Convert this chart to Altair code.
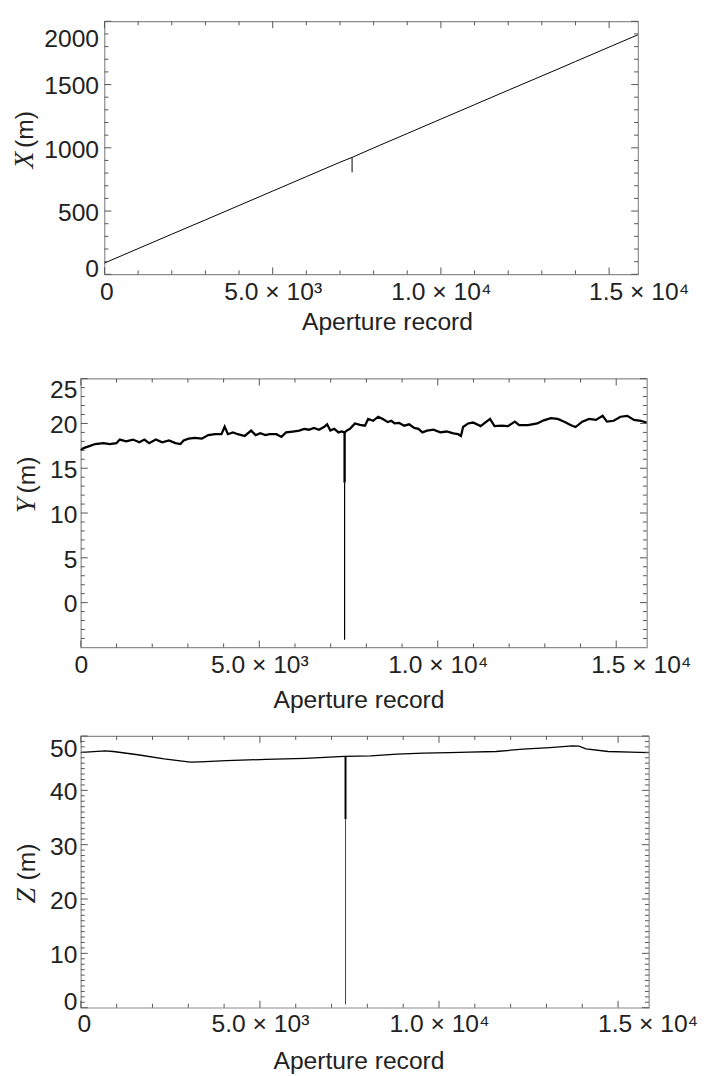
import altair as alt
import pandas as pd

# ---------------- data ----------------
# top panel: X (m) vs aperture record
x_rec = [0, 1000, 2000, 3000, 4000, 5000, 6000, 7000, 7360, 8000, 9000, 10000,
         11000, 12000, 13000, 13600, 14000, 15000, 15853]
x_val = [89, 203, 317, 430, 544, 658, 772, 886, 924, 999, 1113, 1227,
         1341, 1455, 1568, 1636, 1682, 1796, 1893]
x_spike = [7360, 806, 924]          # record, low, high

# middle panel: Y (m)
y_rec = [0, 77, 260, 400, 630, 810, 996, 1090, 1270, 1460, 1640, 1780, 1915, 2100,
         2280, 2470, 2650, 2790, 2880, 3020, 3200, 3390, 3570, 3760, 3940, 4030,
         4120, 4260, 4400, 4590, 4770, 4900, 5030, 5170, 5290, 5480, 5620, 5750,
         5940, 6120, 6260, 6390, 6530, 6670, 6810, 6900, 6990, 7100, 7220, 7310,
         7390, 7450, 7540, 7680, 7820, 7960, 8050, 8190, 8330, 8460, 8600, 8700,
         8790, 8920, 9060, 9200, 9340, 9460, 9570, 9700, 9880, 10070, 10250, 10440,
         10570, 10650, 10710, 10850, 10990, 11200, 11465, 11590, 11780, 11970, 12160,
         12280, 12530, 12790, 12970, 13170, 13360, 13545, 13735, 13860, 14050, 14240,
         14430, 14620, 14740, 14930, 15120, 15310, 15500, 15690, 15850]
y_val = [17.0, 17.25, 17.5, 17.7, 17.8, 17.7, 17.8, 18.2, 18.0, 18.2, 17.9, 18.2, 17.8, 18.2,
         17.9, 18.1, 17.8, 17.7, 18.1, 18.3, 18.4, 18.3, 18.7, 18.8, 18.8, 19.65,
         18.8, 19.0, 18.8, 18.6, 19.2, 18.7, 18.9, 18.7, 18.8, 18.8, 18.5, 19.0,
         19.1, 19.2, 19.4, 19.3, 19.5, 19.3, 19.6, 19.9, 19.2, 19.4, 19.0, 19.1,
         19.0, 19.2, 19.4, 20.0, 19.85, 19.75, 20.5, 20.3, 20.75, 20.5, 20.15, 20.3,
         20.0, 20.05, 19.75, 19.9, 19.5, 19.4, 19.0, 19.2, 19.3, 19.0, 19.1, 18.9,
         18.8, 18.6, 19.6, 20.0, 20.1, 19.7, 20.5, 19.7, 19.75, 19.7, 20.2,
         19.8, 19.8, 20.0, 20.35, 20.6, 20.5, 20.2, 19.8, 19.6, 20.2, 20.5,
         20.4, 20.85, 20.2, 20.3, 20.75, 20.85, 20.4, 20.3, 20.1]
y_spike_thick = [7390, 13.4, 19.0]
y_spike_thin = [7390, -4.15, 13.4]

# bottom panel: Z (m)
z_rec = [0, 36, 676, 905, 1590, 2324, 3057, 3330, 4063, 5162, 6260, 7360, 8093, 8826,
         9560, 10290, 10840, 11590, 12343, 13094, 13722, 13911, 14100, 14726, 15354, 15854]
z_val = [46.96, 47.0, 47.27, 47.15, 46.55, 45.8, 45.2, 45.25, 45.45, 45.7, 45.9, 46.24, 46.35,
         46.66, 46.85, 46.96, 47.05, 47.15, 47.57, 47.87, 48.18, 48.12, 47.63, 47.15, 47.02, 46.96]
z_spike_thick = [7390, 34.7, 46.3]
z_spike_thin = [7390, 0.6, 34.7]

# axis ticks / labels
x_major = [0, 5000, 10000, 15000]
x_major_labels = ["0", "5.0 × 10³", "1.0 × 10⁴", "1.5 × 10⁴"]
x_minor = [v for v in range(1000, 15000, 1000) if v % 5000]
top_y_major = [0, 500, 1000, 1500, 2000]
mid_y_major = [0, 5, 10, 15, 20, 25]
bot_y_major = [0, 10, 20, 30, 40, 50]

# ---------------- style ----------------
FONT = "Liberation Sans"
SERIF = "Liberation Serif"
INK = "#222222"
FRAME = "#8c8c8c"
TICK = "#555555"
XDOM = [0, 15860]

x_label_expr = " : ".join(
    f"datum.value == {v} ? '{lab}'" for v, lab in zip(x_major, x_major_labels)) + " : ''"


def tick_layers(W, H, xscale, yscale, ymaj, ymin):
    layers = []
    for vals, L in ((x_major, 7), (x_minor, 4)):
        base = alt.Chart(pd.DataFrame({"rec": vals})).mark_rule(color=TICK, strokeWidth=1)
        xe = alt.X("rec:Q", scale=xscale)
        layers.append(base.encode(x=xe, y=alt.value(H), y2=alt.value(H - L)))
        layers.append(base.encode(x=xe, y=alt.value(0), y2=alt.value(L)))
    for vals, L in ((ymaj, 7), (ymin, 4)):
        base = alt.Chart(pd.DataFrame({"val": vals})).mark_rule(color=TICK, strokeWidth=1)
        ye = alt.Y("val:Q", scale=yscale)
        layers.append(base.encode(y=ye, x=alt.value(0), x2=alt.value(L)))
        layers.append(base.encode(y=ye, x=alt.value(W), x2=alt.value(W - L)))
    return layers


def ytitle_layers(letter, tx, ty_letter, ty_unit):
    t1 = alt.Chart(pd.DataFrame({"t": [letter]})).mark_text(
        font=SERIF, fontStyle="italic", fontSize=28, angle=270, align="center",
        baseline="middle", color=INK).encode(text="t:N", x=alt.value(tx), y=alt.value(ty_letter))
    t2 = alt.Chart(pd.DataFrame({"t": ["(m)"]})).mark_text(
        font=FONT, fontSize=25, angle=270, align="center",
        baseline="middle", color=INK).encode(text="t:N", x=alt.value(tx), y=alt.value(ty_unit))
    return [t1, t2]


def spike_layer(spk, xscale, yscale, width, color="black"):
    df = pd.DataFrame({"rec": [spk[0]], "val": [spk[1]], "hi": [spk[2]]})
    return alt.Chart(df).mark_rule(color=color, strokeWidth=width).encode(
        x=alt.X("rec:Q", scale=xscale),
        y=alt.Y("val:Q", scale=yscale), y2="hi:Q")


def panel(rec, val, ydom, ymaj, ymin, W, H, line_w, lab_off, off15, lp_x, tp_x, title_x,
          lp_y, spikes, letter, tx, ty_letter, ty_unit, extra_top=0, off0=0):
    xscale = alt.Scale(domain=XDOM, nice=False, zero=False)
    yscale = alt.Scale(domain=ydom, nice=False, zero=False)
    conds = [{"test": f"datum.value == {k}", "value": v} for k, v in lab_off.items()]
    xconds = [{"test": "datum.value == 15000", "value": off15},
              {"test": "datum.value == 0", "value": off0}]
    main = alt.Chart(pd.DataFrame({"rec": rec, "val": val})).mark_line(
        color="black", strokeWidth=line_w).encode(
        x=alt.X("rec:Q", scale=xscale, title="Aperture record",
                axis=alt.Axis(values=x_major, labelExpr=x_label_expr, labelPadding=lp_x,
                              titlePadding=tp_x, titleX=title_x,
                              labelOffset={"condition": xconds, "value": 0})),
        y=alt.Y("val:Q", scale=yscale, title=" ",
                axis=alt.Axis(values=ymaj, format="d", labelPadding=lp_y, titleOpacity=0,
                              labelOffset={"condition": conds, "value": 1.5})))
    layers = [main]
    for spk, w, c in spikes:
        layers.append(spike_layer(spk, xscale, yscale, w, c))
    layers += tick_layers(W, H, xscale, yscale, ymaj, ymin)
    layers += ytitle_layers(letter, tx, ty_letter, ty_unit)
    if extra_top:
        layers.append(alt.Chart(pd.DataFrame({"a": [0]})).mark_rule(opacity=0).encode(
            x=alt.value(5), y=alt.value(-extra_top), y2=alt.value(0)))
    return alt.layer(*layers).properties(width=W, height=H)


top = panel(x_rec, x_val, [0, 2000], top_y_major,
            [v for v in range(100, 2000, 100) if v % 500], 542, 257, 1.0,
            {2000: 17.5, 0: -6}, 30, 6, 5, 287, 6,
            [(x_spike, 1.0, "black")], "X", -81, 141, 110, off0=2)

mid = panel(y_rec, y_val, [-5, 25], [0, 5, 10, 15, 20, 25],
            [v for v in range(-4, 25) if v % 5], 575, 273, 2.3,
            {25: 11}, 25, 5, 11, 282, 4,
            [(y_spike_thick, 2.4, "black"), (y_spike_thin, 1.2, "black")],
            "Y", -55, 129, 98, extra_top=22)

bot = panel(z_rec, z_val, [0, 50], bot_y_major,
            [v for v in range(1, 50) if v % 10], 577, 276, 1.3,
            {50: 13, 0: -6}, 30, 4, 13, 282, 4,
            [(z_spike_thick, 2.0, "black"), (z_spike_thin, 1.0, "#444444")],
            "Z", -55, 162, 128, off0=3)

spacer = alt.Chart(pd.DataFrame({"a": [0]})).mark_point(opacity=0).encode(
    x=alt.X("a:Q", axis=None), y=alt.Y("a:Q", axis=None)).properties(
    width=24, height=1, view=alt.ViewBackground(stroke="transparent"))

top_row = alt.hconcat(spacer, top, spacing=0, bounds="flush")

chart = alt.vconcat(top_row, mid, bot, spacing=21).properties(
    padding={"left": 2, "top": 2, "right": 5, "bottom": 2}
).configure_view(
    stroke=FRAME, strokeWidth=1.2
).configure_axis(
    labelFont=FONT, labelFontSize=25, labelColor=INK,
    titleFont=FONT, titleFontSize=25, titleFontWeight="normal", titleColor=INK,
    ticks=False, tickSize=0, domain=False, grid=False, labelFlush=False
)

chart.save("out.html", embed_options={"renderer": "svg", "actions": False})
